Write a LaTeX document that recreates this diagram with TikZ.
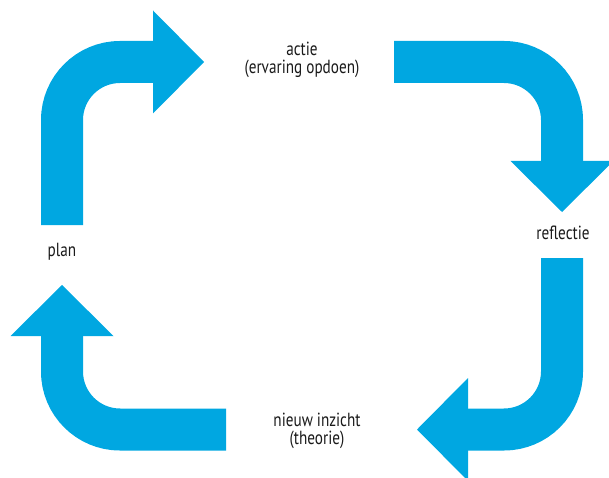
\documentclass[tikz,border=0pt]{standalone}
\usepackage{fontspec}
\setmainfont{PT Sans}[FakeStretch=0.8]
\usetikzlibrary{arrows.meta}
\definecolor{cycle}{HTML}{00A7E1}
\definecolor{ink}{HTML}{1A1A1A}

\begin{document}
\begin{tikzpicture}[x=1pt,y=-1pt,font=\fontsize{19}{18.5}\selectfont,
    cyclearrow/.style={draw=cycle,line width=42pt,rounded corners=58pt,
      -{Triangle[width=103pt,length=51pt,line width=0pt]}},
    station/.style={text=ink,align=center,inner sep=0pt}]
  \useasboundingbox (0,0) rectangle (609,478);

  % the four steps of the cycle
  \node[station] (actie) at (302,60) {actie\\(ervaring opdoen)};
  \node[station] (reflectie) at (563,233) {reflectie};
  \node[station] (inzicht) at (317,431) {nieuw inzicht\\(theorie)};
  \node[station] (plan) at (62,252) {plan};

  % ends of the arrows
  \coordinate (plan-out) at (62,225);
  \coordinate (actie-in) at (204,62);
  \coordinate (actie-out) at (394,62);
  \coordinate (reflectie-in) at (562,212);
  \coordinate (reflectie-out) at (562,258);
  \coordinate (inzicht-in) at (417,429.5);
  \coordinate (inzicht-out) at (226,429.5);
  \coordinate (plan-in) at (62,285);

  \draw[cyclearrow] (plan-out) |- (actie-in);
  \draw[cyclearrow] (actie-out) -| (reflectie-in);
  \draw[cyclearrow] (reflectie-out) |- (inzicht-in);
  \draw[cyclearrow] (inzicht-out) -| (plan-in);
\end{tikzpicture}
\end{document}
